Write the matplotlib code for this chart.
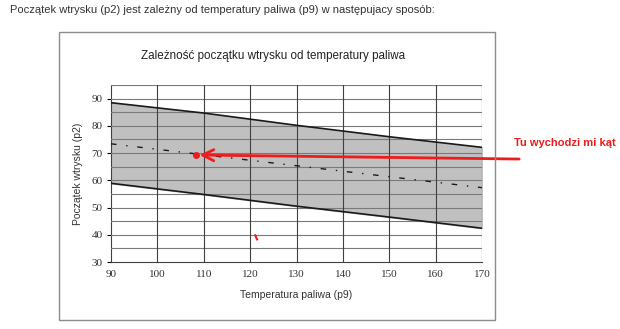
import numpy as np
import matplotlib.pyplot as plt
from matplotlib.patches import Rectangle

plt.rcParams.update({
    'font.family': ['Liberation Sans', 'DejaVu Sans'],
    'font.size': 8,
})

# dane
temp = [90, 110, 130, 150, 170]
upper = [88.5, 84.7, 80.2, 76.0, 72.1]
lower = [58.9, 54.8, 50.5, 46.5, 42.4]
mid_temp = [90, 170]
middle = [73.4, 57.3]

x_ticks = [90, 100, 110, 120, 130, 140, 150, 160, 170]
y_ticks = [30, 40, 50, 60, 70, 80, 90]

header = 'Początek wtrysku (p2) jest zależny od temperatury paliwa (p9) w następujacy sposób:'
title = 'Zależność początku wtrysku od temperatury paliwa'
note = 'Tu wychodzi mi kąt'

fig = plt.figure(figsize=(6.2, 3.29), dpi=100)
fig.patch.set_facecolor('white')

# ramka wykresu
fig.patches.append(Rectangle((59 / 620, 1 - 320 / 329), 436 / 620, 288 / 329,
                             transform=fig.transFigure, fill=False,
                             edgecolor='#8c8c8c', lw=1.0))

ax = fig.add_axes([111 / 620, 1 - 262 / 329, 371 / 620, 177 / 329])
ax.set_xlim(90, 170)
ax.set_ylim(30, 95)

ax.fill_between(temp, lower, upper, color='#c0c0c0', zorder=2)
# siatka
for yv in np.arange(35, 100, 5):
    ax.axhline(yv, color='#7a7a7a', lw=0.8, zorder=3)
for xv in x_ticks[1:]:
    ax.axvline(xv, color='#404040', lw=0.8, zorder=3)
ax.plot(temp, upper, color='#1a1a1a', lw=1.2, zorder=4)
ax.plot(temp, lower, color='#1a1a1a', lw=1.2, zorder=4)
ax.plot(mid_temp, middle, color='#1a1a1a', lw=1.0, zorder=4,
        dashes=(4, 7, 1, 7))

ax.set_xticks(x_ticks)
ax.set_yticks(y_ticks)
ax.set_xticklabels([str(v) for v in x_ticks], family='Liberation Serif',
                   fontsize=8, color='#333333')
ax.set_yticklabels([str(v) for v in y_ticks], family='Liberation Serif',
                   fontsize=8, color='#333333')
ax.tick_params(axis='x', length=0, pad=6)
ax.tick_params(axis='y', length=3, width=0.8, pad=3)
for s in ['top', 'right']:
    ax.spines[s].set_visible(False)
ax.spines['left'].set_color('#404040')
ax.spines['bottom'].set_color('#404040')

ax.set_xlabel('Temperatura paliwa (p9)', fontsize=7.5, color='#333333', labelpad=8)
ax.set_ylabel('Początek wtrysku (p2)', fontsize=7.5, color='#333333', labelpad=6)

fig.text(273 / 620, 1 - 56 / 329, title, ha='center', va='center',
         fontsize=8.4, color='#222222')
fig.text(10 / 620, 1 - 10 / 329, header, ha='left', va='center',
         fontsize=8, color='#333333')

# czerwone adnotacje
ax.annotate('', xy=(108.5, 69.3), xytext=(178.6, 67.8), annotation_clip=False,
            arrowprops=dict(arrowstyle='->', color='#ee1c1c', lw=2.0,
                            mutation_scale=20), zorder=6)
ax.plot([108.3], [69.4], 'o', color='#ee1c1c', ms=4, zorder=7)
ax.plot([121.1, 121.5], [39.8, 38.3], color='#ee1c1c', lw=1.5, zorder=7)
fig.text(514 / 620, 1 - 143 / 329, note, ha='left', va='center',
         fontsize=8, fontweight='bold', color='#ee1c1c')

fig.savefig('out.png', dpi=100)
